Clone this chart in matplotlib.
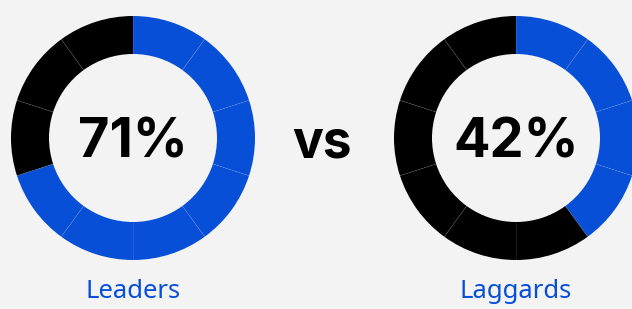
import numpy as np
import matplotlib.pyplot as plt

# chart data
groups = ['Leaders', 'Laggards']
percents = [71, 42]
filled_segments = [7, 4]
n_segments = 10

bg = '#f3f3f3'
blue = '#084fd8'
black = '#000000'

W, H = 632, 309
fig = plt.figure(figsize=(W / 100, H / 100), dpi=100, facecolor=bg)
ax = fig.add_axes([0, 0, 1, 1])

centers = [(133, H - 138), (516, H - 138)]
radius = 122
ring = 38

for name, pct, filled, (cx, cy) in zip(groups, percents, filled_segments, centers):
    colors = [blue if i < filled else black for i in range(n_segments)]
    ax.pie([1] * n_segments, colors=colors, center=(cx, cy), radius=radius,
           startangle=90, counterclock=False,
           wedgeprops=dict(width=ring, linewidth=0, antialiased=True),
           frame=True)

    # faint separators between segments
    for k in range(n_segments):
        ang = np.deg2rad(90 - 360 * k / n_segments)
        r0, r1 = radius - ring, radius
        ax.plot([cx + r0 * np.cos(ang), cx + r1 * np.cos(ang)],
                [cy + r0 * np.sin(ang), cy + r1 * np.sin(ang)],
                color='white', alpha=0.14, lw=0.5, solid_capstyle='butt')

    ax.text(cx, cy, f'{pct}%', ha='center', va='center_baseline',
            fontsize=39, fontweight='bold', family='Inter', color='black')
    ax.text(cx, H - 292, name, ha='center', va='center',
            fontsize=18.5, family='Noto Sans', color=blue)

ax.text(322, H - 138, 'vs', ha='center', va='center_baseline',
        fontsize=37, fontweight='bold', family='Inter', color='black')

ax.set_xlim(0, W)
ax.set_ylim(0, H)
ax.set_aspect('equal')
ax.set_facecolor(bg)
ax.axis('off')

fig.savefig('out.png', dpi=100, facecolor=bg)
